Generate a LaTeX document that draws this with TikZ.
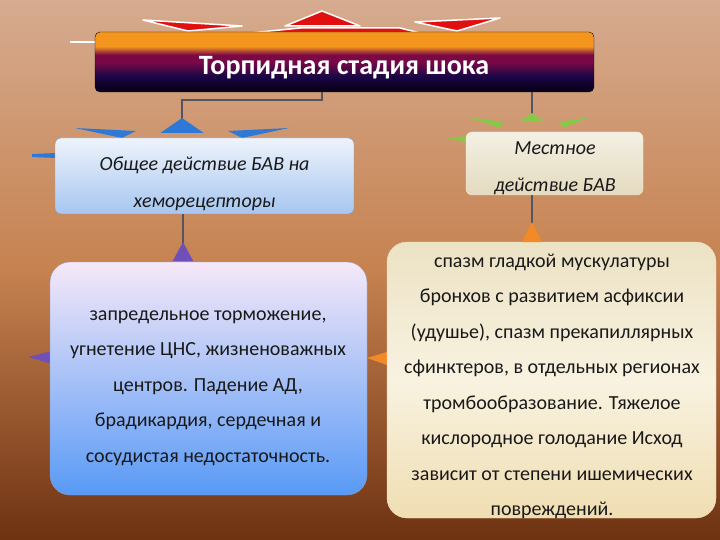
\documentclass[tikz,border=0pt]{standalone}
\usepackage{fontspec}
\setmainfont{Carlito}
\usetikzlibrary{arrows.meta,positioning,calc}

\definecolor{bgtop}{RGB}{214,171,143}
\definecolor{bgmid}{RGB}{198,130,80}
\definecolor{bgbot}{RGB}{110,50,18}
\definecolor{ttorange}{RGB}{244,150,30}
\definecolor{ttmagenta}{RGB}{122,8,70}
\definecolor{ttnavy}{RGB}{26,6,70}
\definecolor{ttdark}{RGB}{10,0,30}
\definecolor{linegray}{RGB}{85,85,95}
\definecolor{tipblue}{RGB}{46,120,215}
\definecolor{tippurple}{RGB}{112,80,184}
\definecolor{tipgreen}{RGB}{136,200,72}
\definecolor{tiporange}{RGB}{242,138,40}
\definecolor{tipred}{RGB}{225,15,15}

\pgfdeclareverticalshading{titleshade}{100bp}{color(0bp)=(ttdark); color(28bp)=(ttdark); color(38bp)=(ttnavy); color(50bp)=(ttmagenta); color(56bp)=(ttmagenta); color(63bp)=(ttorange); color(100bp)=(ttorange)}

\tikzset{
  basic/.style     = {rounded corners=6pt, inner sep=0pt},
  title box/.style = {basic, draw=ttdark, rounded corners=5pt, shading=titleshade,
                      minimum width=499pt, minimum height=60pt},
  blue box/.style  = {basic, draw={rgb,255:red,138;green,154;blue,176},
                      top color={rgb,255:red,238;green,243;blue,251},
                      bottom color={rgb,255:red,166;green,198;blue,240}},
  beige box/.style = {basic, draw={rgb,255:red,240;green,232;blue,208},
                      top color={rgb,255:red,243;green,240;blue,228},
                      bottom color={rgb,255:red,228;green,218;blue,190}},
  sky box/.style   = {basic, rounded corners=20pt, draw={rgb,255:red,150;green,150;blue,170},
                      top color={rgb,255:red,246;green,232;blue,248},
                      bottom color={rgb,255:red,88;green,154;blue,246}},
  sand box/.style  = {basic, rounded corners=20pt, draw={rgb,255:red,236;green,222;blue,186},
                      top color={rgb,255:red,236;green,226;blue,196},
                      bottom color={rgb,255:red,240;green,222;blue,178},
                      middle color={rgb,255:red,248;green,242;blue,224}},
  title text/.style = {text=white, font=\fontsize{28}{32}\selectfont\bfseries},
  small italic/.style = {align=center, text=black!90, font=\fontsize{20}{37}\selectfont\itshape},
  body/.style      = {align=center, text=black!90, font=\fontsize{20}{35.5}\selectfont},
  link/.style      = {draw=linegray, line width=1.8pt},
  deco red/.style  = {fill=tipred, draw=white, line width=1.5pt, line join=round}
}

\begin{document}
\begin{tikzpicture}[x=1pt,y=-1pt]
\fill[top color=bgtop, bottom color=bgbot, middle color=bgmid] (0,0) rectangle (720,540);
\useasboundingbox (0,0) rectangle (720,540);
\clip (0,0) rectangle (720,540);

% decorations behind the boxes
\filldraw[deco red] (143,20) -- (242,26) -- (188,31) -- cycle;
\filldraw[deco red] (322,11) -- (360,26) -- (285,26) -- cycle;
\filldraw[deco red] (250,33) -- (300,28) -- (400,28) -- (420,33) -- cycle;
\filldraw[deco red] (415,22) -- (500,18) -- (457,31) -- cycle;
\draw[white, line width=2pt] (70,42) -- (95,42);
\fill[tipblue] (75,128) -- (136,131) -- (122,138) -- cycle;
\fill[tipblue] (228,131) -- (289,128) -- (242,138) -- cycle;
\fill[tipblue] (32,154) -- (56,153) -- (56,158) -- (32,157) -- cycle;
\fill[tipgreen] (467,117) -- (503,122) -- (500,128) -- cycle;
\fill[tipgreen] (560,122) -- (590,117) -- (563,128) -- cycle;
\fill[tipgreen] (447,138) -- (468,136) -- (468,143) -- cycle;
\fill[tippurple] (28,357) -- (52,351) -- (52,364) -- cycle;
\fill[tiporange] (367,358) -- (390,351) -- (390,366) -- cycle;

\node[title box] (title) at (344.5,62) {};
\node[title text] (title label) at (344,68) {Торпидная стадия шока};

\node[blue box, minimum width=299pt, minimum height=76pt] (general) at (204.5,176) {};
\node[small italic] (general label) at (204.5,183.5) {Общее действие БАВ на\\хеморецепторы};

\node[beige box, minimum width=177pt, minimum height=63pt] (local) at (554.5,163.5) {};
\node[small italic] (local label) at (555,168.5) {Местное\\действие БАВ};

\node[sky box, minimum width=317pt, minimum height=233pt] (cns) at (208.5,378.5) {};
\node[body] (cns label) at (208,388) {запредельное торможение,\\угнетение ЦНС, жизненоважных\\центров. Падение АД,\\брадикардия, сердечная и\\сосудистая недостаточность.};

\node[sand box, minimum width=329pt, minimum height=276pt] (spasm) at (551.5,380) {};
\node[body] (spasm label) at (552,386.5) {спазм гладкой мускулатуры\\бронхов с развитием асфиксии\\(удушье), спазм прекапиллярных\\сфинктеров, в отдельных регионах\\тромбообразование. Тяжелое\\кислородное голодание Исход\\зависит от степени ишемических\\повреждений.};

\coordinate (fork) at (322,100);
\coordinate (general top) at (182,133);
\coordinate (local top) at (532,122);
\coordinate (cns top) at (183,261);
\coordinate (spasm top) at (532,242);

\draw[link, -{Triangle[reversed, length=15pt, width=43pt, color=tipblue]}]
  (title.south -| fork) -- (fork) -| (general top);
\draw[link, -{Triangle[reversed, length=9pt, width=25pt, color=tipgreen]}]
  (title.south -| local top) -- (local top);
\draw[link, -{Triangle[reversed, length=19pt, width=20pt, color=tippurple]}]
  (general.south -| cns top) -- (cns top);
\draw[link, -{Triangle[reversed, length=20pt, width=20pt, color=tiporange]}]
  (local.south -| spasm top) -- (spasm top);
\end{tikzpicture}
\end{document}
